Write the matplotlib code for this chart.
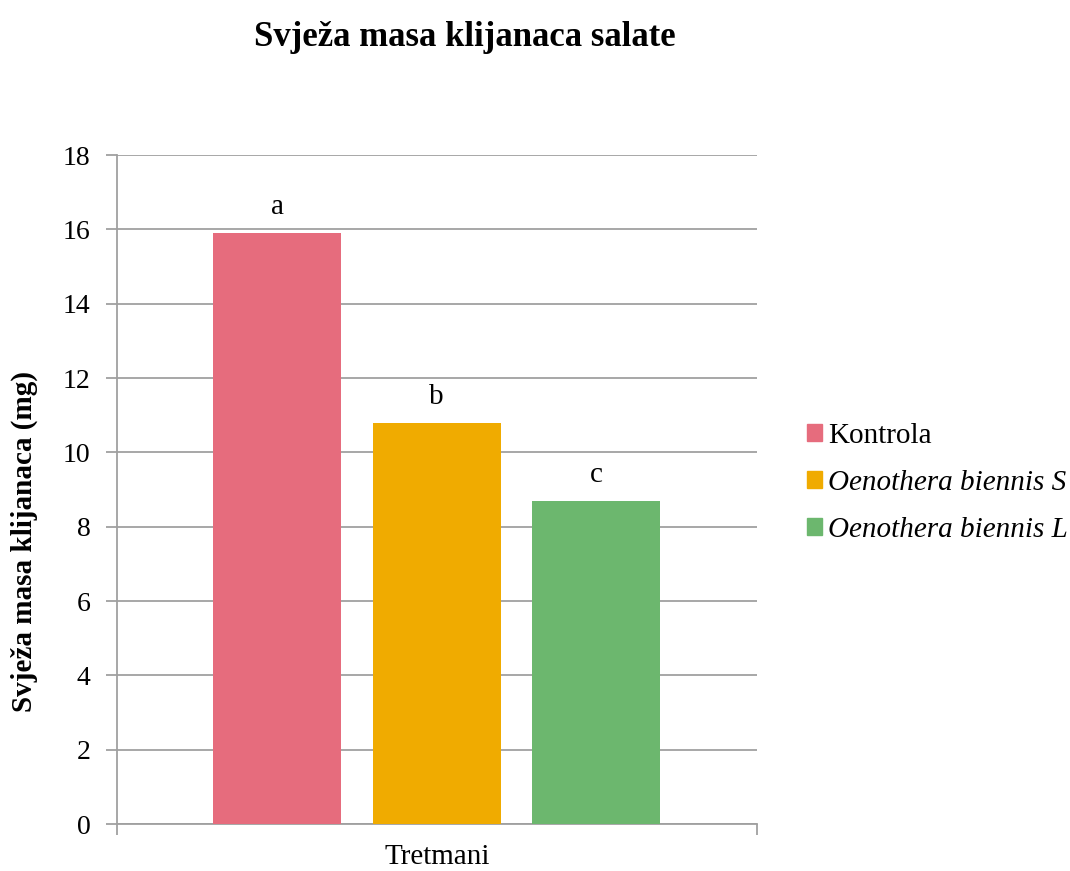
import matplotlib
matplotlib.use("Agg")
import matplotlib.pyplot as plt
from matplotlib.patches import Patch

plt.rcParams["font.family"] = ["Liberation Serif", "DejaVu Serif"]

tretmani = ["Kontrola", "Oenothera biennis S", "Oenothera biennis L"]
masa = [15.9, 10.8, 8.7]
slova = ["a", "b", "c"]
boje = ["#E66C7D", "#F0AB00", "#6CB76E"]
yticks = [0, 2, 4, 6, 8, 10, 12, 14, 16, 18]

fig = plt.figure(figsize=(10.70, 8.71), dpi=100)
ax = fig.add_axes([117/1070, 47/871, 640/1070, 669/871])

x = range(len(masa))
bars = ax.bar(x, masa, width=0.805, color=boje, zorder=3)
for b, s in zip(bars, slova):
    ax.text(b.get_x() + b.get_width()/2, b.get_height() + 0.35, s,
            ha="center", va="bottom", fontsize=21)

ax.set_xlim(-1.006, 3.01)
ax.set_ylim(0, 18)
ax.set_yticks(yticks)
ax.tick_params(axis="y", labelsize=20, length=8, width=1.3, color="#A0A0A0", pad=11)
ax.set_xticks([-1.006, 3.01])
ax.set_xticklabels(["", ""])
ax.tick_params(axis="x", length=8, width=1.3, color="#A0A0A0")
ax.yaxis.grid(True, color="#A0A0A0", linewidth=1.3, zorder=0)
for sp in ["top", "right"]:
    ax.spines[sp].set_visible(False)
for sp in ["left", "bottom"]:
    ax.spines[sp].set_color("#A0A0A0")
    ax.spines[sp].set_linewidth(1.3)

ax.set_xlabel("Tretmani", fontsize=21, labelpad=3)
fig.text(24/1070, 1 - 542/871, "Svježa masa klijanaca (mg)", rotation=90,
         ha="center", va="center", fontsize=21, fontweight="bold")
fig.text(465/1070, 1 - 37/871, "Svježa masa klijanaca salate",
         ha="center", va="center", fontsize=25, fontweight="bold")

handles = [Patch(color=c) for c in boje]
leg = ax.legend(handles, tretmani, loc="center left", bbox_to_anchor=(1.037, 0.51),
                frameon=False, fontsize=21, handlelength=0.52, handleheight=0.52,
                handletextpad=0.2, labelspacing=0.71)
for t in leg.get_texts()[1:]:
    t.set_fontstyle("italic")

fig.savefig("out.png", dpi=100)
